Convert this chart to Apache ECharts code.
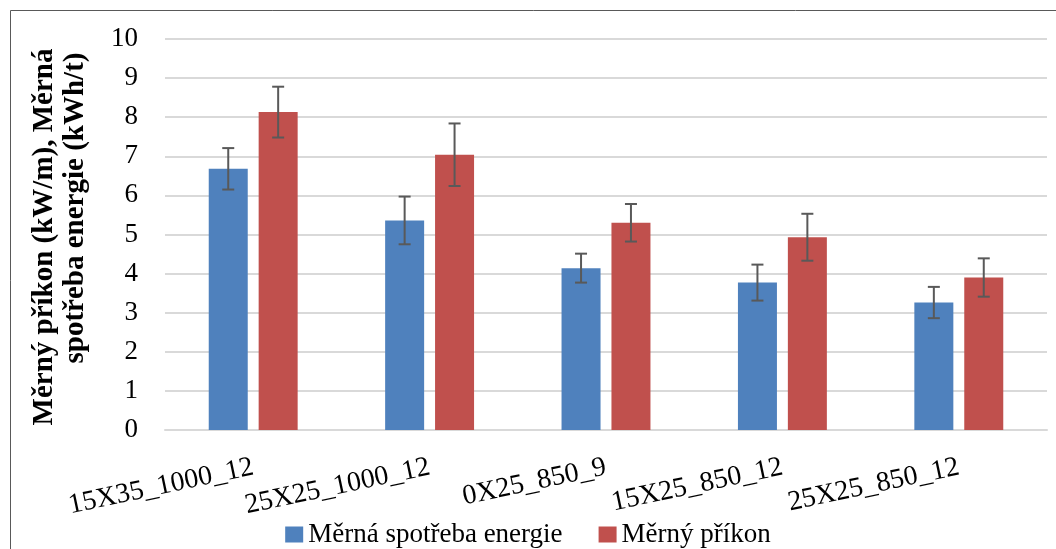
<!DOCTYPE html>
<html>
<head>
<meta charset="utf-8">
<script src="https://cdn.jsdelivr.net/npm/echarts@6/dist/echarts.min.js"></script>
<style>html,body{margin:0;padding:0;background:#fff;}#c{width:1056px;height:549px;}</style>
</head>
<body>
<div id="c"></div>
<script>
const categories = ['15X35_1000_12', '25X25_1000_12', '0X25_850_9', '15X25_850_12', '25X25_850_12'];
const seriesNames = ['Měrná spotřeba energie', 'Měrný příkon'];
const energy = [6.68, 5.36, 4.14, 3.77, 3.26];
const energyErr = [0.53, 0.61, 0.37, 0.46, 0.40];
const power = [8.13, 7.04, 5.30, 4.93, 3.90];
const powerErr = [0.65, 0.80, 0.48, 0.60, 0.49];
const yTicks = [0, 1, 2, 3, 4, 5, 6, 7, 8, 9, 10];
const yTitle1 = 'Měrný příkon (kW/m), Měrná';
const yTitle2 = 'spotřeba energie (kWh/t)';

const FONT = '"Liberation Serif", "Times New Roman", serif';
const BAR_W = 39;
const BAR_GAP = 0.28;

function errData(vals, errs) {
  return vals.map((v, i) => [i, v - errs[i], v + errs[i]]);
}
function errSeries(vals, errs, side) {
  return {
    type: 'custom',
    z: 10,
    silent: true,
    data: errData(vals, errs),
    renderItem: function (params, api) {
      const i = api.value(0);
      const lo = api.coord([i, api.value(1)]);
      const hi = api.coord([i, api.value(2)]);
      const off = side * (BAR_W + BAR_W * BAR_GAP) / 2;
      const x = lo[0] + off;
      const cap = 6;
      const st = { stroke: '#595959', lineWidth: 2 };
      return {
        type: 'group',
        children: [
          { type: 'line', shape: { x1: x, y1: lo[1], x2: x, y2: hi[1] }, style: st },
          { type: 'line', shape: { x1: x - cap, y1: lo[1], x2: x + cap, y2: lo[1] }, style: st },
          { type: 'line', shape: { x1: x - cap, y1: hi[1], x2: x + cap, y2: hi[1] }, style: st }
        ]
      };
    }
  };
}

const chart = echarts.init(document.getElementById('c'));
chart.setOption({
  animation: false,
  backgroundColor: '#fff',
  grid: { left: 165, right: 9, top: 39, bottom: 119, containLabel: false },
  graphic: [
    { type: 'rect', shape: { x: 10.5, y: 10.5, width: 1100, height: 600 }, style: { fill: 'none', stroke: '#595959', lineWidth: 1 }, z: -1 },
    { type: 'text', x: 45, y: 237, rotation: Math.PI / 2, style: { text: yTitle1, font: 'bold 29px ' + FONT, fill: '#000', align: 'center', verticalAlign: 'middle' } },
    { type: 'text', x: 76, y: 208, rotation: Math.PI / 2, style: { text: yTitle2, font: 'bold 29px ' + FONT, fill: '#000', align: 'center', verticalAlign: 'middle' } }
  ],
  legend: {
    data: seriesNames,
    top: 516,
    left: 'center',
    icon: 'rect',
    itemWidth: 18,
    itemHeight: 16,
    itemGap: 36,
    textStyle: { fontFamily: FONT, fontSize: 27, color: '#000' }
  },
  xAxis: {
    type: 'category',
    data: categories,
    axisLine: { lineStyle: { color: '#D9D9D9', width: 2 } },
    axisTick: { show: false },
    axisLabel: { rotate: 12, margin: 37, fontFamily: FONT, fontSize: 28, color: '#000', interval: 0 }
  },
  yAxis: {
    type: 'value',
    min: yTicks[0],
    max: yTicks[yTicks.length - 1],
    interval: 1,
    axisLine: { show: false },
    axisTick: { show: false },
    splitLine: { lineStyle: { color: '#D9D9D9', width: 2 } },
    axisLabel: { margin: 27, fontFamily: FONT, fontSize: 27, color: '#000' }
  },
  series: [
    { name: seriesNames[0], type: 'bar', data: energy, barWidth: BAR_W, barGap: (BAR_GAP * 100) + '%', itemStyle: { color: '#4F81BD' } },
    { name: seriesNames[1], type: 'bar', data: power, barWidth: BAR_W, itemStyle: { color: '#C0504D' } },
    errSeries(energy, energyErr, -1),
    errSeries(power, powerErr, 1)
  ]
});
</script>
</body>
</html>
